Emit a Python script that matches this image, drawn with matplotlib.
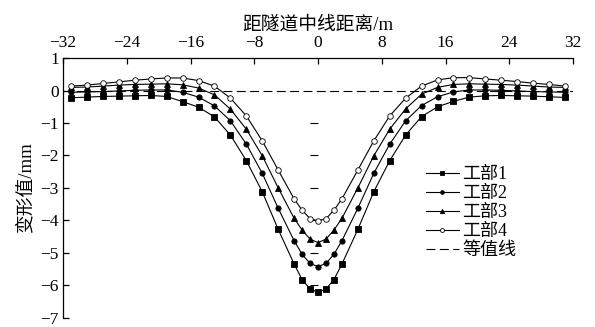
import matplotlib
matplotlib.use("Agg")
import matplotlib.pyplot as plt

plt.rcParams["font.family"] = ["Liberation Serif", "Noto Sans CJK SC"]
plt.rcParams["axes.unicode_minus"] = True

# distance from tunnel centreline (m)
X = [-31, -29, -27, -25, -23, -21, -19, -17, -15, -13, -11, -9, -7, -5, -3, -2, -1, 0,
     1, 2, 3, 5, 7, 9, 11, 13, 15, 17, 19, 21, 23, 25, 27, 29, 31]

# deformation (mm), one list per construction stage
STAGE1 = [-0.22, -0.20, -0.18, -0.17, -0.16, -0.15, -0.18, -0.34, -0.51, -0.81, -1.37, -2.16,
          -3.12, -4.28, -5.35, -5.83, -6.12, -6.22,
          -6.12, -5.83, -5.35, -4.28, -3.12, -2.16, -1.37, -0.80, -0.50, -0.33, -0.20, -0.16,
          -0.15, -0.16, -0.17, -0.19, -0.21]
STAGE2 = [-0.05, -0.04, -0.03, -0.01, 0.01, 0.02, 0.02, -0.05, -0.20, -0.47, -0.93, -1.65,
          -2.55, -3.63, -4.63, -5.05, -5.33, -5.43,
          -5.33, -5.05, -4.63, -3.63, -2.55, -1.65, -0.93, -0.46, -0.19, -0.04, 0.02, 0.02,
          0.01, -0.01, -0.03, -0.04, -0.05]
STAGE3 = [0.10, 0.11, 0.14, 0.17, 0.19, 0.20, 0.21, 0.18, 0.08, -0.13, -0.57, -1.19,
          -2.01, -3.00, -3.94, -4.30, -4.58, -4.69,
          -4.58, -4.30, -3.94, -3.00, -2.01, -1.19, -0.56, -0.11, 0.10, 0.19, 0.21, 0.20,
          0.19, 0.17, 0.14, 0.11, 0.10]
STAGE4 = [0.14, 0.17, 0.22, 0.27, 0.32, 0.36, 0.39, 0.39, 0.31, 0.14, -0.23, -0.78,
          -1.55, -2.45, -3.34, -3.69, -3.95, -4.02,
          -3.95, -3.69, -3.34, -2.45, -1.55, -0.78, -0.23, 0.14, 0.33, 0.40, 0.40, 0.36,
          0.32, 0.28, 0.23, 0.19, 0.14]

LABELS = ["工部1", "工部2", "工部3", "工部4"]
XTICKS = list(range(-32, 33, 8))
YTICKS = list(range(-7, 2))

fig = plt.figure(figsize=(5.95, 3.27), dpi=100)
ax = fig.add_axes([0.106, 0.029, 0.857, 0.793])

styles = [
    dict(marker="s", mfc="black", ms=3.8),
    dict(marker="o", mfc="black", ms=3.8),
    dict(marker="^", mfc="black", ms=4.4),
    dict(marker="o", mfc="white", ms=4.0),
]
for ys, lab, st in zip([STAGE1, STAGE2, STAGE3, STAGE4], LABELS, styles):
    ax.plot(X, ys, color="black", lw=0.8, mec="black", mew=0.6, label=lab, **st)

ax.axhline(0, color="black", lw=0.8, linestyle=(0, (8, 4)), label="等值线")

ax.set_xlim(-32, 32)
ax.set_ylim(-7, 1)
ax.set_xticks(XTICKS)
ax.set_yticks(YTICKS)
ax.xaxis.tick_top()
ax.xaxis.set_label_position("top")
ax.spines["right"].set_visible(False)
ax.spines["bottom"].set_visible(False)
for s in ("top", "left"):
    ax.spines[s].set_linewidth(0.9)
ax.tick_params(axis="both", direction="in", length=4, width=0.9, labelsize=12.5, pad=3)
ax.tick_params(axis="x", pad=5)
ax.set_xlabel("距隧道中线距离/m", fontsize=13.5, labelpad=4)
ax.set_ylabel("变形值/mm", fontsize=13.5, labelpad=4)

# tick marks along the centreline
sec = ax.secondary_yaxis(0.5)
for sp in sec.spines.values():
    sp.set_visible(False)
sec.set_yticks(list(range(-6, 0)))
sec.tick_params(direction="in", length=6, width=0.8, labelright=False, labelleft=False)

leg = ax.legend(loc="upper left", bbox_to_anchor=(0.712, 0.585), frameon=False,
                fontsize=13, handlelength=1.8, handletextpad=0.2, labelspacing=0.12,
                borderpad=0, borderaxespad=0, markerscale=0.7)

fig.savefig("out.png", dpi=100)
